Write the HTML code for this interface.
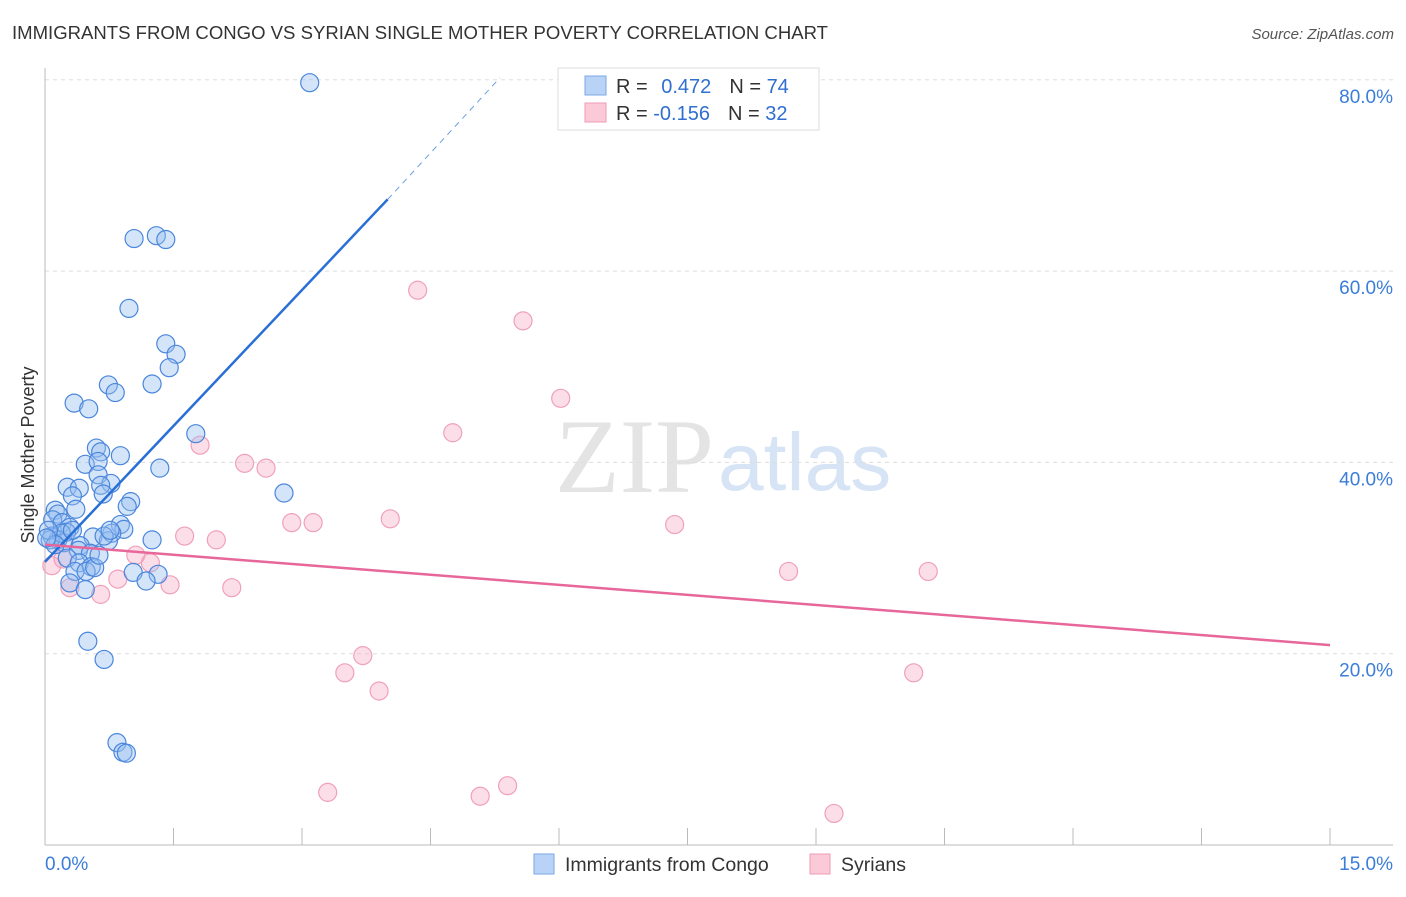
<!DOCTYPE html>
<html><head><meta charset="utf-8"><style>
body{margin:0;background:#fff;font-family:"Liberation Sans",sans-serif}
</style></head><body>
<svg id="chart" width="1406" height="892" xmlns="http://www.w3.org/2000/svg" font-family="Liberation Sans, sans-serif">
<text x="12" y="39" font-size="18" fill="#333" textLength="816" lengthAdjust="spacingAndGlyphs">IMMIGRANTS FROM CONGO VS SYRIAN SINGLE MOTHER POVERTY CORRELATION CHART</text>
<text x="1394" y="39" font-size="15" fill="#555" font-style="italic" text-anchor="end">Source: ZipAtlas.com</text>
<text x="714" y="492" font-size="106" fill="#e4e4e4" text-anchor="end" font-family="Liberation Serif, serif">ZIP</text>
<text x="718" y="490" font-size="82" fill="#d6e4f5">atlas</text>
<text transform="translate(34,455) rotate(-90)" font-size="18" fill="#333" text-anchor="middle">Single Mother Poverty</text>
<g id="grid"></g><g id="axes"></g><g id="pts"></g><g id="trend"></g>
<g>
<rect x="558" y="68" width="261" height="62" fill="#fff" stroke="#ddd"/>
<rect x="585" y="76" width="21" height="19" fill="#b8d3f5" stroke="#7aa7e4"/>
<rect x="585" y="103" width="21" height="19" fill="#fbc9d7" stroke="#f19bb4"/>
<text x="616" y="93" font-size="20" fill="#333">R = <tspan fill="#2f6fd0" dx="8">0.472</tspan><tspan dx="18" fill="#333">N = </tspan><tspan fill="#2f6fd0">74</tspan></text>
<text x="616" y="120" font-size="20" fill="#333">R = <tspan fill="#2f6fd0">-0.156</tspan><tspan dx="18" fill="#333">N = </tspan><tspan fill="#2f6fd0">32</tspan></text>
</g>
<g>
<rect x="534" y="854" width="20" height="20" fill="#b8d3f5" stroke="#7aa7e4"/>
<text x="565" y="871" font-size="19.5" fill="#333">Immigrants from Congo</text>
<rect x="810" y="854" width="20" height="20" fill="#fbc9d7" stroke="#f19bb4"/>
<text x="841" y="871" font-size="19.5" fill="#333">Syrians</text>
</g>
</svg>
<script>
const blueX=[3.09,1.04,1.30,1.41,0.98,1.41,1.53,1.45,0.74,0.82,1.25,0.34,0.51,1.76,0.60,0.88,0.65,0.47,0.62,1.34,0.62,0.26,0.40,0.77,0.65,1.00,0.68,0.32,0.96,0.36,2.79,0.12,0.15,0.09,0.20,0.29,0.25,0.88,0.92,0.78,0.56,0.74,0.69,1.25,0.08,0.15,0.22,0.41,0.39,0.53,0.26,0.40,0.54,0.35,0.48,0.58,1.03,1.32,1.18,0.29,0.47,0.50,0.69,0.84,0.91,0.95,0.06,0.19,0.04,0.12,0.32,0.63,0.76,0.02];
const blueY=[79.7,63.4,63.7,63.3,56.1,52.4,51.3,49.9,48.1,47.3,48.2,46.2,45.6,43.0,41.5,40.7,41.1,39.8,40.1,39.4,38.7,37.4,37.3,37.8,37.6,35.9,36.7,36.5,35.4,35.1,36.8,35.0,34.6,34.0,33.7,33.2,32.7,33.5,33.0,32.6,32.2,31.8,32.3,31.9,32.3,31.9,31.6,31.3,30.8,30.5,30.0,29.5,29.1,28.6,28.6,29.0,28.5,28.3,27.6,27.4,26.7,21.3,19.4,10.7,9.7,9.6,31.9,32.6,32.9,31.4,32.9,30.3,32.9,32.1];
const pinkX=[4.35,5.58,6.02,4.76,1.81,2.33,2.58,4.03,2.88,3.13,7.35,1.63,2.00,1.06,1.23,8.68,10.31,0.85,1.46,2.18,0.29,0.65,3.71,3.50,3.90,10.14,3.30,5.40,5.08,9.21,0.08,0.21];
const pinkY=[58.0,54.8,46.7,43.1,41.8,39.9,39.4,34.1,33.7,33.7,33.5,32.3,31.9,30.3,29.5,28.6,28.6,27.8,27.2,26.9,26.9,26.2,19.8,18.0,16.1,18.0,5.5,6.2,5.1,3.3,29.2,29.9];
const yTicks=[20,40,60,80];
const yTickLabels=["20.0%","40.0%","60.0%","80.0%"];
const blueTrend=[[0,29.6],[4.0,67.5],[5.31,80.2]];
const pinkTrend=[[0,31.4],[15,20.9]];
const NS="http://www.w3.org/2000/svg";
const sx=v=>45+v/15*1285, sy=v=>845-v/20*191.3;
function mk(p,t,a){const e=document.createElementNS(NS,t);for(const k in a)e.setAttribute(k,a[k]);p.appendChild(e);return e;}
const grid=document.getElementById('grid'),axes=document.getElementById('axes'),pts=document.getElementById('pts'),tr=document.getElementById('trend');
yTicks.forEach((t,i)=>{
 const l=mk(grid,'line',{x1:45,x2:1393,y1:sy(t),y2:sy(t),stroke:'#ddd','stroke-dasharray':'4,4'});
 
 
 const tx=mk(grid,'text',{x:1393,y:sy(t)+23,'font-size':19,fill:'#3b7dd8','text-anchor':'end'});
 tx.textContent=yTickLabels[i];
 
 
});
let ax=mk(axes,'line',{x1:45,x2:45,y1:68,y2:845,stroke:'#bbb'});


ax=mk(axes,'line',{x1:45,x2:1393,y1:845,y2:845,stroke:'#bbb'});


for(let i=0;i<=10;i++){const t=mk(axes,'line',{x1:sx(i*1.5),x2:sx(i*1.5),y1:828,y2:845,stroke:'#bbb'});
 
 }
[["0.0%",45,'start'],["15.0%",1393,'end']].forEach(([s,x,a])=>{const t=mk(axes,'text',{x:x,y:870,'font-size':19,fill:'#3b7dd8','text-anchor':a});t.textContent=s;
 
 });
pinkX.forEach((x,i)=>{const c=mk(pts,'circle',{cx:sx(x),cy:sy(pinkY[i]),r:9,fill:'rgba(245,160,190,0.35)',stroke:'#f0a0bb','stroke-width':1.2});
 
 });
blueX.forEach((x,i)=>{const c=mk(pts,'circle',{cx:sx(x),cy:sy(blueY[i]),r:9,fill:'rgba(150,190,240,0.4)',stroke:'#4a86dc','stroke-width':1.2});
 
 });
let l=mk(tr,'line',{x1:sx(blueTrend[0][0]),y1:sy(blueTrend[0][1]),x2:sx(blueTrend[1][0]),y2:sy(blueTrend[1][1]),stroke:'#2a6fd6','stroke-width':2.5});


l=mk(tr,'line',{x1:sx(blueTrend[1][0]),y1:sy(blueTrend[1][1]),x2:sx(blueTrend[2][0]),y2:sy(blueTrend[2][1]),stroke:'#6aa0e0','stroke-width':1,'stroke-dasharray':'6,5'});


l=mk(tr,'line',{x1:sx(pinkTrend[0][0]),y1:sy(pinkTrend[0][1]),x2:sx(pinkTrend[1][0]),y2:sy(pinkTrend[1][1]),stroke:'#e8679a','stroke-width':2.5});


</script>
</body></html>
